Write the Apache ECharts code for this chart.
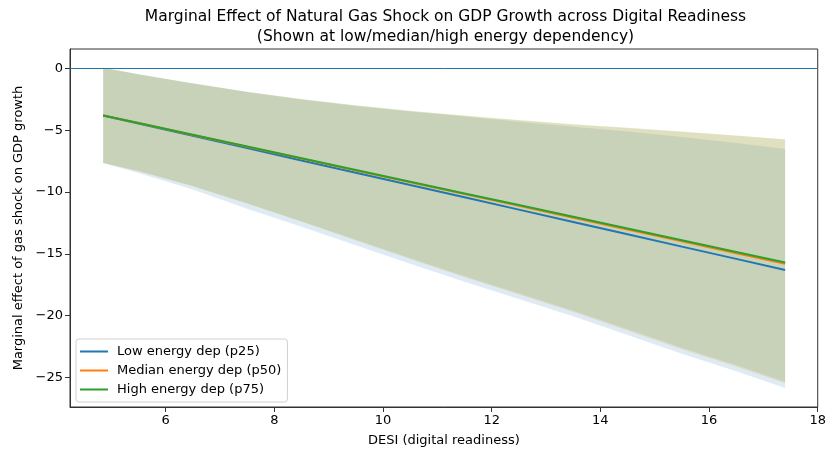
<!DOCTYPE html>
<html>
<head>
<meta charset="utf-8">
<script src="https://cdn.jsdelivr.net/npm/echarts@6/dist/echarts.min.js"></script>
<style>html,body{margin:0;padding:0;background:#fff;}#c{width:829px;height:452px;}</style>
</head>
<body>
<div id="c"></div>
<script>
// DESI grid
const desi = [4.85, 5.5, 6.5, 7.5, 8.5, 9.5, 10.5, 11.5, 12.5, 13.5, 14.5, 15.5, 16.5, 17.4];
// Marginal effect lines
const lowEffect  = [-3.8, -4.45, -5.44, -6.44, -7.44, -8.43, -9.43, -10.42, -11.42, -12.42, -13.41, -14.41, -15.4, -16.3];
const medEffect  = [-3.8, -4.42, -5.38, -6.33, -7.29, -8.25, -9.2, -10.16, -11.11, -12.07, -13.03, -13.98, -14.94, -15.8];
const highEffect = [-3.8, -4.42, -5.37, -6.32, -7.27, -8.21, -9.16, -10.11, -11.05, -12.0, -12.95, -13.9, -14.85, -15.7];
// Confidence bands
const lowUpper  = [0.05, -0.48, -1.22, -1.91, -2.52, -3.03, -3.48, -3.88, -4.31, -4.72, -5.1, -5.55, -6.04, -6.52];
const lowLower  = [-7.65, -8.45, -9.8, -11.35, -12.8, -14.3, -15.8, -17.25, -18.65, -20.05, -21.55, -23.07, -24.48, -25.85];
const medUpper  = [0.05, -0.49, -1.22, -1.9, -2.5, -3.0, -3.44, -3.82, -4.2, -4.54, -4.82, -5.12, -5.44, -5.75];
const medLower  = [-7.65, -8.32, -9.53, -10.94, -12.4, -13.91, -15.42, -16.88, -18.29, -19.7, -21.21, -22.72, -24.13, -25.45];
const highUpper = [0.05, -0.47, -1.2, -1.88, -2.48, -2.98, -3.42, -3.8, -4.18, -4.52, -4.8, -5.1, -5.42, -5.72];
const highLower = [-7.65, -8.3, -9.5, -10.9, -12.35, -13.85, -15.35, -16.8, -18.2, -19.6, -21.1, -22.6, -24.0, -25.35];
// Tick labels
const xTicks = [6, 8, 10, 12, 14, 16, 18];
const yTicks = [-25, -20, -15, -10, -5, 0];
const names = ['Low energy dep (p25)', 'Median energy dep (p50)', 'High energy dep (p75)'];
const colors = ['#1f77b4', '#ff7f0e', '#2ca02c'];

const pts = (ys) => desi.map((x, i) => [x, ys[i]]);
const bandSets = [[lowUpper, lowLower], [medUpper, medLower], [highUpper, highLower]];
const effects = [lowEffect, medEffect, highEffect];
const series = [];
const FONT = 'DejaVu Sans';

bandSets.forEach((b, k) => {
  const up = b[0], lo = b[1];
  series.push({
    type: 'custom', name: 'band' + k, silent: true, z: 1,
    data: desi.map((x, i) => [x, up[i], lo[i]]),
    encode: {x: 0, y: [1, 2]},
    clip: true,
    renderItem: function (params, api) {
      if (params.dataIndex !== 0) return null;
      const poly = [];
      for (let i = 0; i < desi.length; i++) poly.push(api.coord([desi[i], up[i]]));
      for (let i = desi.length - 1; i >= 0; i--) poly.push(api.coord([desi[i], lo[i]]));
      return {
        type: 'polygon',
        shape: {points: poly},
        style: {fill: colors[k], opacity: 0.15, stroke: null}
      };
    }
  });
});

// zero reference line
series.push({
  type: 'line', name: 'zero', data: [], silent: true, z: 3,
  markLine: {
    symbol: 'none', silent: true, animation: false,
    label: {show: false},
    lineStyle: {color: '#1f77b4', width: 1, type: 'solid'},
    data: [{yAxis: 0}]
  }
});

effects.forEach((e, k) => {
  series.push({
    type: 'line', name: names[k], data: pts(e), symbol: 'none',
    lineStyle: {color: colors[k], width: 2}, itemStyle: {color: colors[k]}, z: 5
  });
});

const chart = echarts.init(document.getElementById('c'), null, {renderer: 'canvas'});
chart.setOption({
  animation: false,
  backgroundColor: '#fff',
  grid: {left: 70, right: 8, top: 49, bottom: 44, show: true, borderColor: '#333', borderWidth: 1, backgroundColor: 'transparent'},
  graphic: [
    {type: 'text', x: 445.5, y: 9, style: {text: 'Marginal Effect of Natural Gas Shock on GDP Growth across Digital Readiness', font: '15.5px "DejaVu Sans"', fill: '#000', align: 'center', verticalAlign: 'top'}},
    {type: 'text', x: 445.5, y: 29, style: {text: '(Shown at low/median/high energy dependency)', font: '15.5px "DejaVu Sans"', fill: '#000', align: 'center', verticalAlign: 'top'}}
  ],
  legend: {
    data: names.map((n, k) => ({name: n, icon: 'rect', itemStyle: {color: colors[k]}})),
    orient: 'vertical', left: 76, top: 339,
    itemWidth: 28, itemHeight: 2, itemGap: 4,
    padding: [5, 6, 5, 4],
    borderColor: '#d0d0d0', borderWidth: 1, borderRadius: 3,
    backgroundColor: 'rgba(255,255,255,0.8)',
    textStyle: {fontFamily: FONT, fontSize: 13, color: '#000', padding: [0, 0, 0, 4], lineHeight: 15}
  },
  xAxis: {
    type: 'value', min: 4.24, max: 18,
    name: 'DESI (digital readiness)', nameLocation: 'middle', nameGap: 27,
    nameTextStyle: {fontFamily: FONT, fontSize: 13, color: '#000'},
    axisLine: {show: true, onZero: false, lineStyle: {color: '#333', width: 1}},
    axisTick: {show: true, length: 5, inside: false, customValues: xTicks, lineStyle: {color: '#333'}},
    axisLabel: {customValues: xTicks, fontFamily: FONT, fontSize: 13, color: '#000', margin: 7, showMinLabel: true, showMaxLabel: true},
    splitLine: {show: false}
  },
  yAxis: {
    type: 'value', min: -27.38, max: 1.57,
    name: 'Marginal effect of gas shock on GDP growth', nameLocation: 'middle', nameGap: 41,
    nameTextStyle: {fontFamily: FONT, fontSize: 13, color: '#000'},
    axisLine: {show: true, onZero: false, lineStyle: {color: '#333', width: 1}},
    axisTick: {show: true, length: 5, inside: false, customValues: yTicks, lineStyle: {color: '#333'}},
    axisLabel: {customValues: yTicks, fontFamily: FONT, fontSize: 13, color: '#000', margin: 7,
      formatter: v => (v < 0 ? '\u2212' + Math.abs(v) : '' + v)},
    splitLine: {show: false}
  },
  series: series
});
</script>
</body>
</html>
